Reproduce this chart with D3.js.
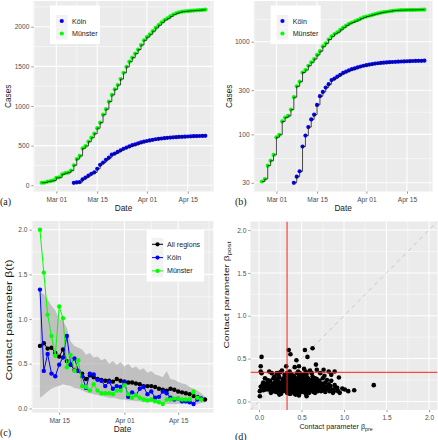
<!DOCTYPE html>
<html><head><meta charset="utf-8">
<script src="https://cdn.jsdelivr.net/npm/d3@7"></script>
<style>
body{margin:0;background:#fff}
svg{display:block}
</style>
</head><body>
<svg id="chart" width="438" height="440"></svg>
<script>
// ---------------- DATA ----------------
const muensterStart = "2020-02-25";
const muensterCases = [31,33,46,52,60,93,99,138,152,158,185,252,330,370,465,495,550,600,650,720,790,890,960,1056,1140,1211,1265,1340,1419,1494,1560,1610,1662,1712,1770,1830,1870,1905,1945,1985,2020,2055,2085,2105,2130,2155,2170,2182,2190,2195,2198,2201,2204,2207,2210,2213,2216];
const koelnStart = "2020-03-07";
const koelnCases = [30,35,40,74,97,120,145,163,208,258,287,320,348,385,400,420,440,460,475,490,505,515,528,540,550,558,566,573,580,585,590,594,598,601,604,607,609,611,613,615,617,619,620,621,622,624];

const betaStart = "2020-03-10";
const betaAll = [0.70,0.73,0.67,0.68,0.62,0.58,0.66,0.53,0.49,0.43,0.42,0.39,0.33,0.37,0.35,0.33,0.32,0.31,0.31,0.30,0.33,0.31,0.30,0.29,0.29,0.28,0.27,0.25,0.25,0.25,0.24,0.22,0.21,0.20,0.22,0.21,0.19,0.18,0.17,0.16,0.14,0.13,0.11,0.10];
const betaUpper = [1.30,1.28,1.22,1.15,1.10,1.00,0.98,0.90,0.75,0.70,0.68,0.66,0.60,0.62,0.57,0.58,0.54,0.56,0.50,0.53,0.49,0.52,0.47,0.50,0.45,0.47,0.43,0.45,0.40,0.42,0.38,0.37,0.35,0.42,0.33,0.32,0.30,0.28,0.27,0.24,0.22,0.20,0.17,0.13];
const betaLower = [0.12,0.15,0.19,0.22,0.24,0.25,0.27,0.26,0.25,0.23,0.22,0.20,0.18,0.17,0.16,0.15,0.14,0.13,0.12,0.12,0.11,0.10,0.10,0.09,0.09,0.08,0.08,0.07,0.07,0.07,0.06,0.06,0.06,0.05,0.05,0.05,0.05,0.05,0.05,0.05,0.05,0.05,0.06,0.07];
const betaKoeln = [1.33,0.42,0.61,0.39,0.36,0.49,0.57,0.81,0.49,0.56,0.42,0.36,0.23,0.39,0.38,0.32,0.31,0.25,0.30,0.22,0.25,0.24,0.30,0.13,0.18,0.15,0.22,0.24,0.16,0.19,0.12,0.13,0.19,0.17,0.12,0.10,0.11,0.08,0.08,0.07,0.05,0.10,0.11];
const betaMuenster = [2.00,1.52,1.05,0.81,0.59,1.14,1.01,0.46,0.60,0.42,0.54,0.25,0.24,0.20,0.27,0.20,0.17,0.17,0.17,0.16,0.20,0.20,0.26,0.16,0.12,0.15,0.12,0.10,0.09,0.10,0.08,0.07,0.05,0.10,0.10,0.11,0.11,0.10,0.10,0.10,0.19,0.12,0.10];

const betaPre = [
 0.01,0.01,0.02,0.03,0.02,0.02,0.04,0.05,0.06,0.07,0.08,0.09,0.05,0.10,0.08,0.03,
 0.11,0.12,0.13,0.14,0.15,0.15,0.16,0.17,0.18,0.19,0.12,0.14,0.17,0.19,0.11,0.16,0.18,0.20,
 0.21,0.21,0.22,0.22,0.23,0.23,0.24,0.24,0.25,0.25,0.26,0.26,0.27,0.27,0.28,0.28,0.29,0.29,0.30,0.30,0.20,0.21,0.23,0.26,0.28,0.29,0.25,0.24,
 0.31,0.31,0.32,0.32,0.33,0.33,0.34,0.34,0.35,0.35,0.35,0.36,0.36,0.36,0.37,0.37,0.37,0.38,0.38,0.38,0.39,0.39,0.39,0.40,0.40,0.40,0.31,0.32,0.33,0.34,0.35,0.36,0.37,0.38,0.39,0.30,0.33,0.36,0.34,0.40,
 0.41,0.41,0.41,0.42,0.42,0.42,0.43,0.43,0.43,0.44,0.44,0.44,0.45,0.45,0.45,0.46,0.46,0.46,0.47,0.47,0.47,0.48,0.48,0.48,0.49,0.49,0.49,0.50,0.50,0.50,0.41,0.42,0.43,0.44,0.45,0.46,0.47,0.48,0.49,0.50,0.44,0.46,0.48,0.42,0.47,
 0.51,0.51,0.51,0.52,0.52,0.52,0.53,0.53,0.53,0.54,0.54,0.54,0.55,0.55,0.55,0.56,0.56,0.56,0.57,0.57,0.57,0.58,0.58,0.58,0.59,0.59,0.59,0.60,0.60,0.60,0.51,0.52,0.53,0.54,0.55,0.56,0.57,0.58,0.59,0.55,
 0.61,0.61,0.62,0.62,0.63,0.63,0.63,0.64,0.64,0.65,0.65,0.66,0.66,0.67,0.67,0.68,0.68,0.69,0.69,0.70,0.62,0.64,0.66,0.68,0.70,
 0.71,0.71,0.72,0.72,0.73,0.74,0.75,0.75,0.76,0.76,0.77,0.78,0.78,0.79,0.80,0.74,0.77,0.73,
 0.81,0.82,0.82,0.83,0.84,0.85,0.86,0.87,0.88,0.89,0.89,0.90,0.92,0.94,0.95,0.98,0.93,0.85,1.01,1.05,1.12,1.35];
const betaPost = [
 0.12,0.06,0.17,0.52,0.41,0.35,0.19,0.22,0.15,0.27,0.18,0.21,0.13,0.25,0.14,0.33,
 0.20,0.16,0.24,0.18,0.33,0.13,0.21,0.27,0.15,0.19,0.35,0.10,0.12,0.23,0.14,0.17,0.29,0.11,
 0.33,0.18,0.14,0.24,0.20,0.10,0.16,0.28,0.19,0.13,0.22,0.09,0.36,0.17,0.25,0.12,0.20,0.15,0.31,0.18,0.21,0.26,0.30,0.15,0.21,0.27,0.34,0.08,
 0.13,0.22,0.41,0.17,0.25,0.10,0.19,0.29,0.60,0.14,0.21,0.12,0.26,0.17,0.55,0.20,0.09,0.15,0.23,0.32,0.18,0.13,0.27,0.21,0.16,0.11,0.28,0.12,0.20,0.15,0.24,0.09,0.30,0.19,0.24,0.16,0.33,0.35,0.11,0.30,
 0.14,0.24,0.19,0.40,0.12,0.28,0.17,0.21,0.08,0.48,0.15,0.26,0.19,0.11,0.33,0.22,0.16,0.13,0.41,0.20,0.29,0.15,0.24,0.10,0.18,0.31,0.13,0.21,0.16,0.26,0.30,0.16,0.25,0.12,0.23,0.27,0.14,0.19,0.22,0.12,0.20,0.35,0.33,0.09,0.07,
 0.19,0.14,0.29,0.22,0.11,0.17,0.38,0.25,0.15,0.60,0.20,0.12,0.18,0.27,0.09,0.14,0.23,0.32,0.52,0.19,0.16,0.21,0.13,0.26,0.17,0.10,0.24,0.20,0.15,0.36,0.24,0.31,0.20,0.16,0.22,0.06,0.28,0.17,0.13,0.35,
 0.18,0.25,0.13,0.21,0.62,0.16,0.29,0.19,0.11,0.23,0.15,0.20,0.27,0.43,0.14,0.37,0.18,0.22,0.12,0.17,0.33,0.24,0.10,0.26,0.20,
 0.14,0.24,0.19,0.33,0.12,0.21,0.16,0.27,0.37,0.18,0.13,0.22,0.11,0.17,0.25,0.15,0.30,0.17,
 0.15,0.35,0.20,0.12,0.18,0.24,0.14,0.10,0.12,0.35,0.19,0.16,0.16,0.28,0.10,0.15,0.12,0.31,0.14,0.12,0.13,0.19];
const betaPreThreshold = 0.33;
const betaPostThreshold = 0.34;

const dateTicks = ["2020-03-01","2020-03-15","2020-04-01","2020-04-15"];
const dateTickLabels = ["Mar 01","Mar 15","Apr 01","Apr 15"];
const dateMinor = ["2020-02-22T12:00","2020-03-08T00:00","2020-03-23T12:00","2020-04-08T00:00","2020-04-23T00:00"];
const betaDateTicks = ["2020-03-15","2020-04-01","2020-04-15"];
const betaDateTickLabels = ["Mar 15","Apr 01","Apr 15"];
const linTicks = [0,500,1000,1500,2000];
const linMinor = [250,750,1250,1750,2250];
const logTicks = [30,100,300,1000];
const logMinor = [54.77,173.2,547.7,1732];
const betaTicks = [0,0.5,1,1.5,2];
const betaMinor = [0.25,0.75,1.25,1.75];
const legendCases = ["Köln","Münster"];
const legendBeta = ["All regions","Köln","Münster"];

// ---------------- STYLE ----------------
const FONT = '"Liberation Sans", Arial, Helvetica, sans-serif';
const SERIF = '"Liberation Serif", "Times New Roman", serif';
const COL_K = "#0000FF", COL_M = "#00FF00", COL_A = "#000000";
const TITLE_COL = "#1A1A1A";
const svg = d3.select("#chart");
const defs = svg.append("defs");

const utc = s => new Date((s.length === 10 ? s + "T00:00:00" : s) + "Z");
const days = (start, n) => d3.range(n).map(i => d3.utcDay.offset(utc(start), i));
function expand(ext, f = 0.05) { const d = ext[1] - ext[0]; return [ext[0] - d * f, ext[1] + d * f]; }
function expandDates(ext) { const e = expand([+ext[0], +ext[1]]); return [new Date(e[0]), new Date(e[1])]; }

let clipId = 0;
function panel(box, x, y, o) {
  const g = svg.append("g");
  const id = "clip" + (clipId++);
  defs.append("clipPath").attr("id", id).append("rect")
    .attr("x", box.l).attr("y", box.t).attr("width", box.r - box.l).attr("height", box.b - box.t);
  g.append("rect").attr("x", box.l).attr("y", box.t).attr("width", box.r - box.l)
    .attr("height", box.b - box.t).attr("fill", "#EBEBEB");
  const grid = g.append("g").attr("clip-path", `url(#${id})`);
  const hl = (vals, w) => vals.forEach(v => { const yy = y(v); if (yy >= box.t - 1 && yy <= box.b + 1)
    grid.append("line").attr("x1", box.l).attr("x2", box.r).attr("y1", yy).attr("y2", yy).attr("stroke", "#fff").attr("stroke-width", w); });
  const vl = (vals, w) => vals.forEach(v => { const xx = x(v); if (xx >= box.l - 1 && xx <= box.r + 1)
    grid.append("line").attr("y1", box.t).attr("y2", box.b).attr("x1", xx).attr("x2", xx).attr("stroke", "#fff").attr("stroke-width", w); });
  hl(o.yMin, 0.5); vl(o.xMin, 0.5); hl(o.yMaj, 1.05); vl(o.xMaj, 1.05);

  const gx = g.append("g").attr("transform", `translate(0,${box.b})`)
    .call(d3.axisBottom(x).tickValues(o.xMaj).tickFormat(o.xFmt).tickSize(2.2).tickPadding(3.3));
  const gy = g.append("g").attr("transform", `translate(${box.l},0)`)
    .call(d3.axisLeft(y).tickValues(o.yMaj).tickFormat(o.yFmt).tickSize(2.2).tickPadding(2));
  [gx, gy].forEach(a => {
    a.select(".domain").remove();
    a.attr("font-family", FONT).attr("font-size", 6.6);
    a.selectAll("line").attr("stroke", "#333").attr("stroke-width", 0.5);
    a.selectAll("text").attr("fill", "#4D4D4D");
  });
  const content = g.append("g").attr("clip-path", `url(#${id})`);
  return content;
}

function label(txt, x, y, opts = {}) {
  const t = svg.append("text").attr("font-family", opts.serif ? SERIF : FONT)
    .attr("font-size", opts.size || 8.3).attr("fill", opts.fill || TITLE_COL)
    .attr("text-anchor", opts.anchor || "middle");
  if (opts.rotate) {
    t.attr("x", 0).attr("y", 0)
     .attr("transform", `translate(${x},${y}) rotate(-90) scale(${opts.stretch || 1},1)`);
  } else {
    t.attr("x", x).attr("y", y);
  }
  t.text(txt);
  return t;
}
function betaLabel(x, y, sub, rotate, size, stretch) {
  const t = svg.append("text").attr("font-family", FONT)
    .attr("font-size", size).attr("text-anchor", "middle").attr("fill", TITLE_COL);
  if (rotate) t.attr("x", 0).attr("y", 0).attr("transform", `translate(${x},${y}) rotate(-90) scale(${stretch},1)`);
  else t.attr("x", x).attr("y", y);
  t.append("tspan").text("Contact parameter β");
  t.append("tspan").attr("font-size", size * 0.72).attr("dy", size * 0.3).text(sub);
  return t;
}

// ---------------- PANEL (a) & (b): cumulative cases ----------------
const muenster = days(muensterStart, muensterCases.length).map((d, i) => ({ date: d, v: muensterCases[i] }));
const koeln = days(koelnStart, koelnCases.length).map((d, i) => ({ date: d, v: koelnCases[i] }));
const allCases = muenster.concat(koeln);
const dateDomain = expandDates(d3.extent(allCases, d => d.date));
const caseExt = d3.extent(allCases, d => d.v);

function casesPanel(box, yScale, yTicks, yMinor, yFmt) {
  const x = d3.scaleUtc().domain(dateDomain).range([box.l, box.r]);
  const c = panel(box, x, yScale, {
    xMaj: dateTicks.map(utc), xMin: dateMinor.map(utc), yMaj: yTicks, yMin: yMinor,
    xFmt: (d, i) => dateTickLabels[i], yFmt: yFmt
  });
  [[koeln, COL_K], [muenster, COL_M]].forEach(([data, col]) => {
    c.selectAll(null).data(data).enter().append("circle")
      .attr("cx", d => x(d.date)).attr("cy", d => yScale(d.v)).attr("r", 2.1).attr("fill", col);
    c.append("path").datum(data)
      .attr("d", d3.line().x(d => x(d.date)).y(d => yScale(d.v)).curve(d3.curveStepAfter))
      .attr("fill", "none").attr("stroke", "#111").attr("stroke-width", 0.75);
  });
}
function casesLegend(bx, by) {
  svg.append("rect").attr("x", bx).attr("y", by).attr("width", 50).attr("height", 38.5).attr("fill", "#fff");
  legendCases.forEach((name, i) => {
    const cy = by + 15.5 + i * 12.5;
    svg.append("rect").attr("x", bx + 6).attr("y", cy - 6).attr("width", 11.5).attr("height", 12).attr("fill", "#F2F2F2");
    svg.append("circle").attr("cx", bx + 11.75).attr("cy", cy).attr("r", 2.1).attr("fill", i === 0 ? COL_K : COL_M);
    label(name, bx + 22, cy + 2.5, { size: 7.1, anchor: "start" });
  });
}

const boxA = { l: 33.5, r: 213.5, t: 1, b: 191.5 };
const yA = d3.scaleLinear().domain(expand(caseExt)).range([boxA.b, boxA.t]);
casesPanel(boxA, yA, linTicks, linMinor, d => d);
casesLegend(50, 5.5);

const boxB = { l: 253.8, r: 432.5, t: 1, b: 191.5 };
const logExt = expand(caseExt.map(Math.log10));
const yB = d3.scaleLog().domain(logExt.map(v => Math.pow(10, v))).range([boxB.b, boxB.t]);
casesPanel(boxB, yB, logTicks, logMinor, d => d);
casesLegend(270.7, 5.5);

label("Date", (boxA.l + boxA.r) / 2, 211, {});
label("Date", (boxB.l + boxB.r) / 2, 211, {});
label("Cases", 11.3, (boxA.t + boxA.b) / 2, { rotate: true });
label("Cases", 231.8, (boxB.t + boxB.b) / 2, { rotate: true });
label("(a)", 0, 204.5, { serif: true, size: 10, anchor: "start" });
label("(b)", 235, 204.5, { serif: true, size: 10, anchor: "start" });

// ---------------- PANEL (c): contact parameter over time ----------------
const bDatesAll = days(betaStart, betaAll.length);
const bDatesReg = days(betaStart, betaKoeln.length);
const boxC = { l: 31.7, r: 213.3, t: 221, b: 412.7 };
const xC = d3.scaleUtc().domain(expandDates(d3.extent(bDatesAll))).range([boxC.l, boxC.r]);
const betaExt = d3.extent(betaAll.concat(betaUpper, betaLower, betaKoeln, betaMuenster));
const yC = d3.scaleLinear().domain(expand(betaExt)).range([boxC.b, boxC.t]);
const cC = panel(boxC, xC, yC, {
  xMaj: betaDateTicks.map(utc), xMin: dateMinor.map(utc), yMaj: betaTicks, yMin: betaMinor,
  xFmt: (d, i) => betaDateTickLabels[i], yFmt: d3.format(".1f")
});
cC.append("path").datum(bDatesAll.map((d, i) => ({ d, lo: betaLower[i], hi: betaUpper[i] })))
  .attr("d", d3.area().x(p => xC(p.d)).y0(p => yC(p.lo)).y1(p => yC(p.hi)))
  .attr("fill", "#A6A6A6").attr("fill-opacity", 0.62);
[[betaAll, bDatesAll, COL_A], [betaKoeln, bDatesReg, COL_K], [betaMuenster, bDatesReg, COL_M]].forEach(([vals, ds, col]) => {
  const pts = ds.map((d, i) => ({ d, v: vals[i] }));
  cC.append("path").datum(pts).attr("d", d3.line().x(p => xC(p.d)).y(p => yC(p.v)))
    .attr("fill", "none").attr("stroke", col).attr("stroke-width", 1);
  cC.selectAll(null).data(pts).enter().append("circle")
    .attr("cx", p => xC(p.d)).attr("cy", p => yC(p.v)).attr("r", 2.2).attr("fill", col);
});
// legend (c)
svg.append("rect").attr("x", 146.7).attr("y", 230).attr("width", 57.5).attr("height", 51.5).attr("fill", "#fff");
legendBeta.forEach((name, i) => {
  const cy = 244.3 + i * 13.3, col = [COL_A, COL_K, COL_M][i];
  svg.append("rect").attr("x", 151.5).attr("y", cy - 6.5).attr("width", 12).attr("height", 13).attr("fill", "#F2F2F2");
  svg.append("line").attr("x1", 152).attr("x2", 163).attr("y1", cy).attr("y2", cy).attr("stroke", col).attr("stroke-width", 1);
  svg.append("circle").attr("cx", 157.5).attr("cy", cy).attr("r", 2.1).attr("fill", col);
  label(name, 167, cy + 2.5, { size: 7.1, anchor: "start" });
});
label("Date", (boxC.l + boxC.r) / 2, 432, {});
label("Contact parameter β(t)", 11.5, 320, { rotate: true, stretch: 1.45 });
label("(c)", 0, 435.5, { serif: true, size: 10, anchor: "start" });

// ---------------- PANEL (d): beta pre vs post ----------------
const boxD = { l: 250.5, r: 437.5, t: 221.5, b: 410 };
const dLim = expand([0, 2]);
const xD = d3.scaleLinear().domain(dLim).range([boxD.l, boxD.r]);
const yD = d3.scaleLinear().domain(dLim).range([boxD.b, boxD.t]);
const cD = panel(boxD, xD, yD, {
  xMaj: betaTicks, xMin: betaMinor, yMaj: betaTicks, yMin: betaMinor,
  xFmt: d3.format(".1f"), yFmt: d3.format(".1f")
});
cD.append("line").attr("x1", xD(dLim[0])).attr("y1", yD(dLim[0])).attr("x2", xD(dLim[1])).attr("y2", yD(dLim[1]))
  .attr("stroke", "#BDBDBD").attr("stroke-width", 0.8).attr("stroke-dasharray", "4,4");
const n = Math.min(betaPre.length, betaPost.length);
cD.selectAll(null).data(d3.range(n)).enter().append("circle")
  .attr("cx", i => xD(betaPre[i])).attr("cy", i => yD(betaPost[i])).attr("r", 2.3).attr("fill", "#000");
cD.append("line").attr("x1", xD(betaPreThreshold)).attr("x2", xD(betaPreThreshold)).attr("y1", boxD.t).attr("y2", boxD.b)
  .attr("stroke", "#FF2020").attr("stroke-width", 1);
cD.append("line").attr("y1", yD(betaPostThreshold)).attr("y2", yD(betaPostThreshold)).attr("x1", boxD.l).attr("x2", boxD.r)
  .attr("stroke", "#FF2020").attr("stroke-width", 1);
betaLabel(336, 428.5, "pre", false, 7.2, 1);
betaLabel(229, 295, "post", true, 7.2, 1.42);
label("(d)", 235, 439.5, { serif: true, size: 10, anchor: "start" });
</script>
</body></html>
